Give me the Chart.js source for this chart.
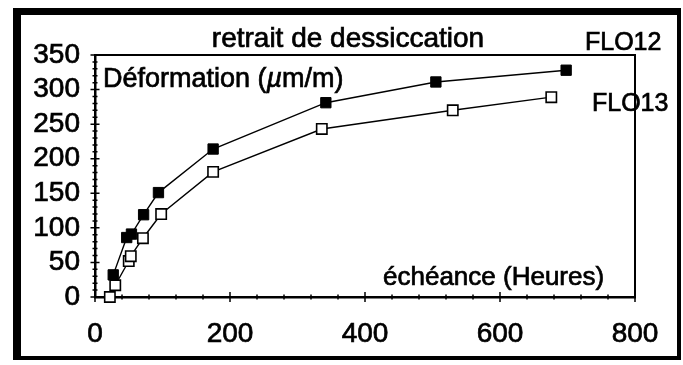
<!DOCTYPE html>
<html>
<head>
<meta charset="utf-8">
<script src="https://cdn.jsdelivr.net/npm/chart.js@4/dist/chart.umd.min.js"></script>
<style>
  html, body { margin: 0; padding: 0; background: #fff; }
  #wrap { width: 683px; height: 365px; position: relative; }
</style>
</head>
<body>
<div id="wrap"><canvas id="c" width="683" height="365"></canvas></div>
<script>
// Drying shrinkage vs. age, two mixes
const hoursFLO12  = [27, 47, 54, 72, 94, 175, 342, 505, 698];
const strainFLO12 = [32, 86, 91, 119, 151, 214, 281, 311, 328];
const hoursFLO13  = [22, 30, 50, 53, 71, 98, 175, 336, 530, 676];
const strainFLO13 = [0, 17, 52, 59, 85, 120, 181, 243, 270, 289];
const xTickValues = [0, 200, 400, 600, 800];
const yTickValues = [0, 50, 100, 150, 200, 250, 300, 350];

const titleText = 'retrait de dessiccation';
const yAxisText = ['Déformation (', 'µ', 'm/m)'];
const xAxisText = 'échéance (Heures)';
const seriesNames = ['FLO12', 'FLO13'];

const FONT = '"Liberation Sans", Arial, Helvetica, sans-serif';
const INK = 0.7; // extra stroke that gives the lettering its heavier weight

function toPoints(xs, ys) { return xs.map((x, i) => ({ x: x, y: ys[i] })); }

function inkText(ctx, text, x, y) {
  ctx.fillText(text, x, y);
  ctx.strokeText(text, x, y);
}

// page frame, plot box, minor/major ticks and text labels
const decorations = {
  id: 'decorations',
  beforeDraw(chart) {
    const ctx = chart.ctx;
    ctx.save();
    ctx.fillStyle = '#fff';
    ctx.fillRect(0, 0, chart.width, chart.height);
    ctx.restore();
  },
  afterDraw(chart) {
    const ctx = chart.ctx;
    const a = chart.chartArea;
    const xs = chart.scales.x, ys = chart.scales.y;
    ctx.save();
    ctx.fillStyle = '#000';
    // outer frame
    ctx.fillRect(13, 8, 8, 352);
    ctx.fillRect(13, 8, 668, 7);
    ctx.fillRect(677, 8, 4, 352);
    ctx.fillRect(13, 356, 668, 4);

    // plot box top and right
    ctx.strokeStyle = '#000';
    ctx.lineWidth = 2;
    ctx.beginPath();
    ctx.moveTo(a.left, a.top);
    ctx.lineTo(a.right, a.top);
    ctx.lineTo(a.right, a.bottom);
    ctx.stroke();

    // x ticks
    ctx.lineWidth = 1.5;
    ctx.beginPath();
    for (let v = 0; v <= 800; v += 40) {
      const px = xs.getPixelForValue(v);
      const h = (v % 200 === 0) ? 5 : 2.5;
      ctx.moveTo(px, a.bottom - h);
      ctx.lineTo(px, a.bottom + h);
    }
    // y ticks
    for (let v = 0; v <= 350; v += 10) {
      const py = ys.getPixelForValue(v);
      const w = (v % 50 === 0) ? 4.5 : 2.5;
      ctx.moveTo(a.left - w, py);
      ctx.lineTo(a.left + w, py);
    }
    ctx.stroke();

    // texts
    ctx.fillStyle = '#000';
    ctx.strokeStyle = '#000';
    ctx.lineWidth = INK;
    ctx.textBaseline = 'alphabetic';
    ctx.font = '28px ' + FONT;
    ctx.textAlign = 'center';
    inkText(ctx, titleText, 348, 47);

    ctx.textAlign = 'left';
    ctx.font = '27px ' + FONT;
    let x0 = 103;
    inkText(ctx, yAxisText[0], x0, 87);
    x0 += ctx.measureText(yAxisText[0]).width;
    ctx.font = 'italic 27px ' + FONT;
    inkText(ctx, yAxisText[1], x0, 87);
    x0 += ctx.measureText(yAxisText[1]).width;
    ctx.font = '27px ' + FONT;
    inkText(ctx, yAxisText[2], x0, 87);

    ctx.font = '26px ' + FONT;
    inkText(ctx, xAxisText, 383, 285);

    ctx.font = '25px ' + FONT;
    inkText(ctx, seriesNames[0], 585, 50);
    inkText(ctx, seriesNames[1], 592, 111);
    ctx.restore();
  }
};

new Chart(document.getElementById('c'), {
  type: 'scatter',
  data: {
    datasets: [
      {
        label: seriesNames[1],
        data: toPoints(hoursFLO13, strainFLO13),
        showLine: true,
        borderColor: '#000',
        borderWidth: 1.4,
        pointStyle: 'rect',
        pointRadius: 7.3,
        pointBackgroundColor: '#fff',
        pointBorderColor: '#000',
        pointBorderWidth: 1.6,
        tension: 0,
        clip: false
      },
      {
        label: seriesNames[0],
        data: toPoints(hoursFLO12, strainFLO12),
        showLine: true,
        borderColor: '#000',
        borderWidth: 1.4,
        pointStyle: 'rect',
        pointRadius: 7.3,
        pointBackgroundColor: '#000',
        pointBorderColor: '#000',
        pointBorderWidth: 1,
        tension: 0,
        clip: false
      }
    ]
  },
  options: {
    responsive: false,
    animation: false,
    events: [],
    layout: { padding: { top: 55, right: 48, left: 0, bottom: 0 } },
    plugins: { legend: { display: false }, tooltip: { enabled: false }, title: { display: false } },
    scales: {
      x: {
        type: 'linear',
        min: 0, max: 800,
        afterFit(s) { s.height = 68; },
        afterBuildTicks(s) { s.ticks = xTickValues.map(v => ({ value: v })); },
        grid: { display: true, drawOnChartArea: false, drawTicks: false },
        border: { display: true, color: '#000', width: 2.5 },
        ticks: { color: '#000', padding: 20, autoSkip: false, maxRotation: 0,
                 textStrokeColor: '#000', textStrokeWidth: INK,
                 font: { family: FONT, size: 28 } }
      },
      y: {
        type: 'linear',
        min: 0, max: 350,
        afterFit(s) { s.width = 95; },
        afterBuildTicks(s) { s.ticks = yTickValues.map(v => ({ value: v })); },
        grid: { display: true, drawOnChartArea: false, drawTicks: false },
        border: { display: true, color: '#000', width: 2.5 },
        ticks: { color: '#000', padding: 15, autoSkip: false,
                 textStrokeColor: '#000', textStrokeWidth: INK,
                 font: { family: FONT, size: 28 } }
      }
    }
  },
  plugins: [decorations]
});
</script>
</body>
</html>
